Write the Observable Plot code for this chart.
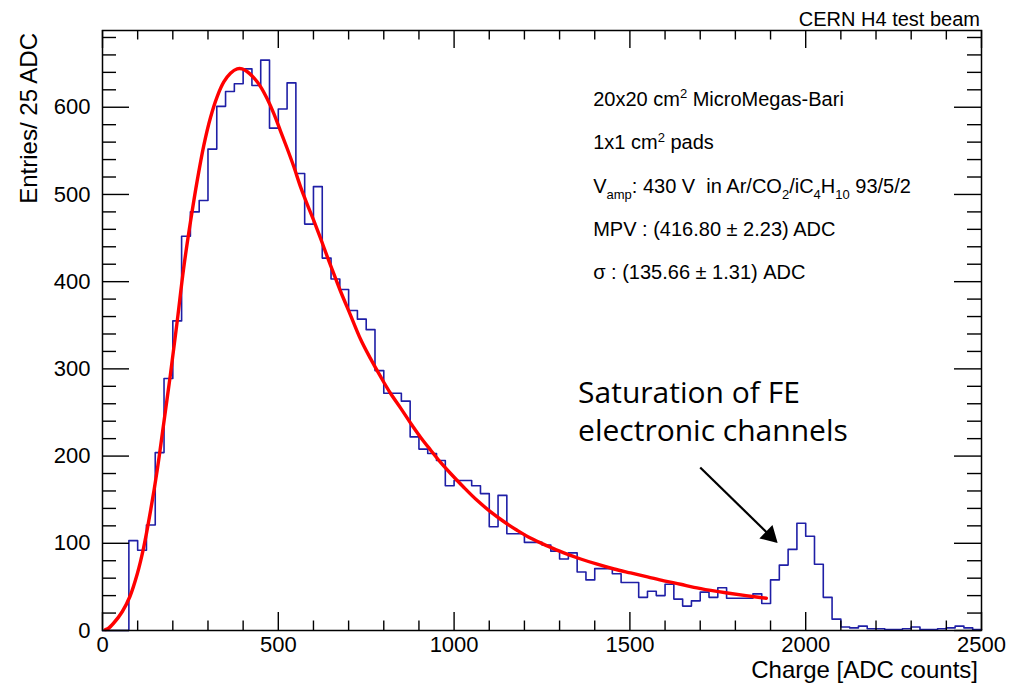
<!DOCTYPE html>
<html>
<head>
<meta charset="utf-8">
<script src="https://cdn.jsdelivr.net/npm/d3@7"></script>
<script src="https://cdn.jsdelivr.net/npm/@observablehq/plot@0.6"></script>
<style>
html, body { margin: 0; padding: 0; background: #fff; }
#chart svg { display: block; }
</style>
</head>
<body>
<div id="chart"></div>
<script>
// ---------- data ----------
const binWidth = 25;
const counts = [
  0, 0, 0, 103, 92, 121, 204, 289, 355, 452,
  480, 493, 552, 601, 618, 627, 644, 625, 654, 576,
  598, 628, 524, 466, 509, 427, 403, 391, 367, 357,
  345, 298, 272, 272, 263, 222, 208, 203, 195, 166,
  172, 172, 166, 157, 119, 155, 111, 111, 101, 101,
  98, 91, 82, 89, 67, 58, 71, 71, 65, 55,
  55, 38, 45, 40, 53, 36, 28, 34, 44, 38,
  49, 37, 37, 37, 42, 31, 58, 75, 93, 123,
  108, 76, 38, 13, 4, 3, 5, 2, 2, 1,
  1, 2, 4, 1, 1, 2, 3, 5, 3, 1
];
const fitX = [8, 15, 32, 56, 78, 99, 117, 137, 156, 174, 193, 212, 231, 250, 269, 288, 307, 326, 345, 364,
  383, 397, 411, 430, 449, 468, 487, 506, 525, 544, 563, 582, 601, 620, 639, 658, 677, 705, 734, 762,
  791, 819, 848, 876, 904, 933, 961, 990, 1028, 1066, 1104, 1141, 1179, 1217, 1265, 1312, 1360, 1407,
  1455, 1502, 1550, 1597, 1644, 1682, 1730, 1777, 1830, 1888];
const fitY = [1, 2, 8.6, 21.5, 39, 65, 95, 138, 185, 237, 293, 353, 416, 468, 515, 556, 588, 612, 629, 639,
  644, 644, 641, 634, 624, 610, 593, 573, 553, 532, 509, 489, 470, 450, 429, 409, 389, 362, 334, 312,
  291, 272, 255, 238, 222, 207, 193, 180, 164, 149, 136, 125, 115, 106, 97, 89, 82, 76,
  70.5, 66, 61.5, 57, 53, 49.5, 46, 43, 40, 37];

const xDomain = [0, 2500];
const yDomain = [0, 688];
const xMajor = [0, 500, 1000, 1500, 2000, 2500];
const xMinor = [100, 200, 300, 400, 600, 700, 800, 900, 1100, 1200, 1300, 1400, 1600, 1700, 1800, 1900, 2100, 2200, 2300, 2400];
const yMajor = [0, 100, 200, 300, 400, 500, 600];
const yMinor = [20, 40, 60, 80, 120, 140, 160, 180, 220, 240, 260, 280, 320, 340, 360, 380, 420, 440, 460, 480, 520, 540, 560, 580, 620, 640, 660, 680];

const xTitle = "Charge [ADC counts]";
const yTitle = "Entries/ 25 ADC";
const topRight = "CERN H4 test beam";
const infoLines = [
  [["20x20 cm"], ["2", "sup"], [" MicroMegas-Bari"]],
  [["1x1 cm"], ["2", "sup"], [" pads"]],
  [["V"], ["amp", "sub"], [": 430 V  in Ar/CO"], ["2", "sub"], ["/iC"], ["4", "sub"], ["H"], ["10", "sub"], [" 93/5/2"]],
  [["MPV : (416.80 \u00b1 2.23) ADC"]],
  [["\u03c3 : (135.66 \u00b1 1.31) ADC"]]
];
const infoX = 1397;
const infoY = [601, 551, 501, 452, 402];
const noteLines = ["Saturation of FE", "electronic channels"];
const noteX = 1354;
const noteY = [260, 216.5];
const arrowFrom = {x: 1700, y: 187};
const arrowTo = {x: 1898, y: 109};

// ---------- layout ----------
const W = 1013, H = 688;
const mL = 102, mR = 32, mT = 30, mB = 58;
const innerW = W - mL - mR, innerH = H - mT - mB;

const histPts = counts.map((c, i) => ({x: i * binWidth, y: c}));
histPts.push({x: counts.length * binWidth, y: counts[counts.length - 1]});
const fitPts = fitX.map((x, i) => ({x, y: fitY[i]}));

const tickStyle = {stroke: "black", strokeWidth: 1.4};

const plot = Plot.plot({
  width: W, height: H,
  marginLeft: mL, marginRight: mR, marginTop: mT, marginBottom: mB,
  style: {fontFamily: "'Liberation Sans', Arial, Helvetica, sans-serif", fontSize: "22px", color: "black", background: "white", overflow: "visible"},
  x: {domain: xDomain},
  y: {domain: yDomain},
  marks: [
    Plot.line(histPts, {x: "x", y: "y", curve: "step-after", stroke: "#1f1fa6", strokeWidth: 1.6}),
    Plot.line(fitPts, {x: "x", y: "y", stroke: "#ff0000", strokeWidth: 3.4, curve: "catmull-rom"}),
    Plot.tickX(xMajor, {x: d => d, insetTop: innerH - 18, ...tickStyle}),
    Plot.tickX(xMinor, {x: d => d, insetTop: innerH - 9.5, ...tickStyle}),
    Plot.tickX(xMajor, {x: d => d, insetBottom: innerH - 18, ...tickStyle}),
    Plot.tickX(xMinor, {x: d => d, insetBottom: innerH - 9.5, ...tickStyle}),
    Plot.tickY(yMajor, {y: d => d, insetRight: innerW - 27, ...tickStyle}),
    Plot.tickY(yMinor, {y: d => d, insetRight: innerW - 14, ...tickStyle}),
    Plot.tickY(yMajor, {y: d => d, insetLeft: innerW - 27, ...tickStyle}),
    Plot.tickY(yMinor, {y: d => d, insetLeft: innerW - 14, ...tickStyle}),
    Plot.frame({stroke: "black", strokeWidth: 1.5}),
    Plot.axisX({ticks: xMajor, tickFormat: d => String(d), tickSize: 0, tickPadding: 6, label: null, fontSize: 22}),
    Plot.axisY({ticks: yMajor, tickFormat: d => String(d), tickSize: 0, tickPadding: 12, label: null, fontSize: 22}),
    Plot.link([{x1: arrowFrom.x, y1: arrowFrom.y, x2: arrowTo.x, y2: arrowTo.y}], {x1: "x1", y1: "y1", x2: "x2", y2: "y2", stroke: "black", strokeWidth: 2.2}),
    Plot.dot([arrowTo], {x: "x", y: "y", symbol: "triangle", r: 7, fill: "black", stroke: "none", rotate: 134})
  ]
});

document.getElementById("chart").appendChild(plot);

// ---------- text overlays ----------
const svg = d3.select(plot);
const sx = v => plot.scale("x").apply(v);
const sy = v => plot.scale("y").apply(v);
const rootFont = "'Liberation Sans', Arial, Helvetica, sans-serif";

svg.append("text")
  .attr("x", W - mR - 1).attr("y", 25.5)
  .attr("text-anchor", "end")
  .attr("font-family", rootFont).attr("font-size", 20).attr("fill", "black")
  .text(topRight);

svg.append("text")
  .attr("x", W - mR - 3).attr("y", 678)
  .attr("text-anchor", "end")
  .attr("font-family", rootFont).attr("font-size", 24).attr("fill", "black")
  .text(xTitle);

svg.append("text")
  .attr("transform", `translate(37,33) rotate(-90)`)
  .attr("text-anchor", "end")
  .attr("font-family", rootFont).attr("font-size", 24).attr("fill", "black")
  .text(yTitle);

infoLines.forEach((segs, i) => {
  const t = svg.append("text")
    .attr("x", sx(infoX)).attr("y", sy(infoY[i]))
    .attr("text-anchor", "start")
    .attr("font-family", rootFont).attr("font-size", 20).attr("fill", "black")
    .style("white-space", "pre");
  let shift = 0;
  segs.forEach(([txt, kind]) => {
    const target = kind === "sup" ? -7.5 : kind === "sub" ? 5.5 : 0;
    const ts = t.append("tspan").attr("dy", target - shift).text(txt);
    if (kind) ts.attr("font-size", 13);
    shift = target;
  });
});

noteLines.forEach((line, i) => {
  svg.append("text")
    .attr("x", sx(noteX)).attr("y", sy(noteY[i]))
    .attr("text-anchor", "start")
    .attr("font-family", "'Open Sans', 'Noto Sans', sans-serif").attr("font-size", 30).attr("fill", "black")
    .text(line);
});
</script>
</body>
</html>
